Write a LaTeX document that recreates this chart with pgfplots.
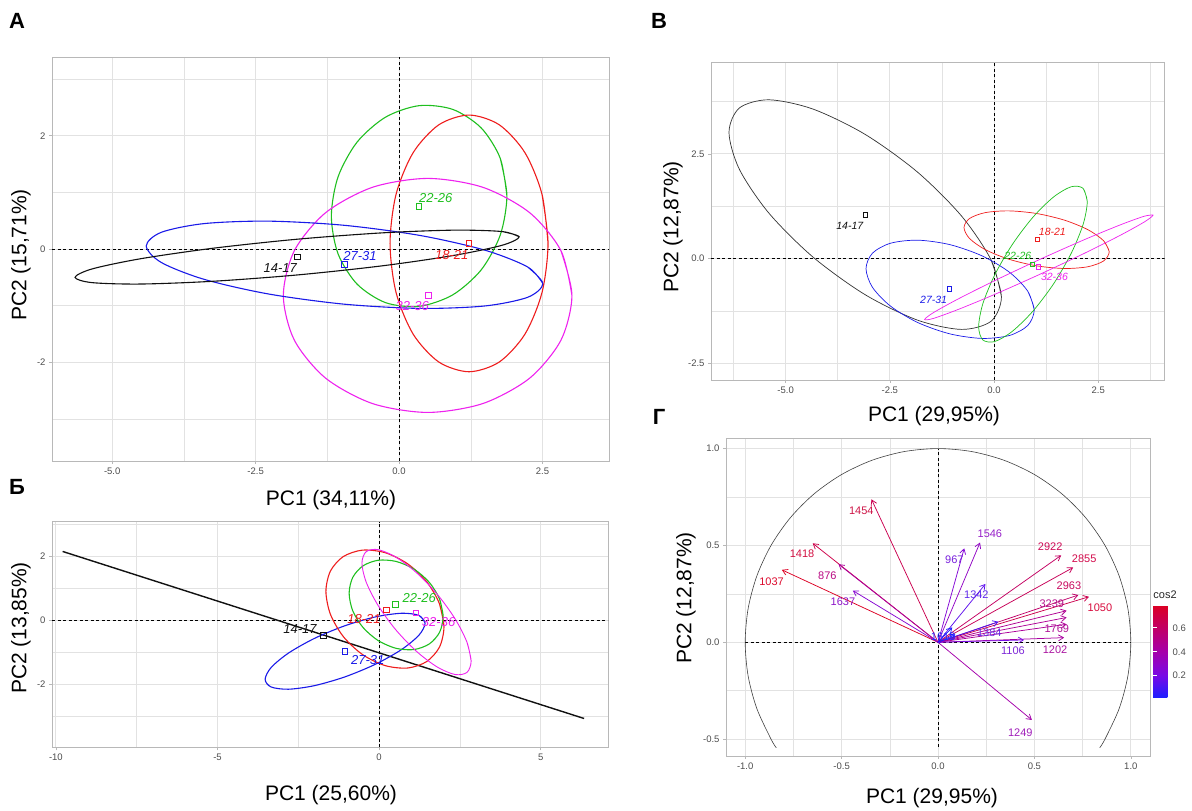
\documentclass[border=0pt]{standalone}
\usepackage{pgfplots}
\pgfplotsset{compat=1.18}
\usepackage{fontspec}
\setmainfont{Liberation Sans}
\usetikzlibrary{arrows.meta}
\definecolor{grey30}{HTML}{4D4D4D}
\definecolor{grey70}{HTML}{B8B8B8}
\definecolor{grey87}{HTML}{E2E2E2}
\definecolor{cBlk}{HTML}{111111}
\definecolor{cRed}{HTML}{EE1D1D}
\definecolor{cGrn}{HTML}{1FBF1F}
\definecolor{cBlu}{HTML}{1A1AE8}
\definecolor{cMag}{HTML}{EE22EE}
\definecolor{k1454}{RGB}{205,20,70}
\definecolor{k1418}{RGB}{210,15,65}
\definecolor{k1037}{RGB}{220,10,45}
\definecolor{k876}{RGB}{185,10,130}
\definecolor{k1637}{RGB}{140,20,200}
\definecolor{k967}{RGB}{120,30,220}
\definecolor{k1546}{RGB}{150,30,200}
\definecolor{k1342}{RGB}{95,40,235}
\definecolor{k2922}{RGB}{205,10,85}
\definecolor{k2855}{RGB}{210,10,75}
\definecolor{k2963}{RGB}{200,10,95}
\definecolor{k1050}{RGB}{215,10,60}
\definecolor{k3239}{RGB}{180,20,140}
\definecolor{k1769}{RGB}{175,20,150}
\definecolor{k1202}{RGB}{170,20,160}
\definecolor{k1106}{RGB}{125,40,215}
\definecolor{k1384}{RGB}{105,45,230}
\definecolor{k1249}{RGB}{160,30,185}
\definecolor{k1618}{RGB}{40,40,255}
\pgfplotsset{
  panel/.style={
    scale only axis, anchor=south west,
    axis line style={grey70, line width=0.8pt},
    tick pos=left, tick align=outside,
    major tick length=3pt, minor tick length=0pt,
    tick style={grey70, line width=0.6pt},
    grid=both,
    major grid style={grey87, line width=1pt},
    minor grid style={grey87, line width=0.5pt},
    tick label style={font=\fontsize{9.5}{10}\selectfont, text=grey30},
  },
  ell/.style={smooth, line width=1.1pt},
  ellB/.style={smooth, line width=0.7pt},
  zline/.style={black, dash pattern=on 3pt off 2.5pt, line width=0.7pt},
  lbl/.style={draw=none, mark=none, point meta=explicit symbolic, nodes near coords,
    visualization depends on={value \thisrow{col}\as\labcol},
    every node near coord/.append style={anchor=center, inner sep=0pt, text=\labcol}},
  ctr/.style={only marks, mark=square, mark size=2.8pt, line width=0.7pt},
  ctrB/.style={only marks, mark=square, mark size=2.2pt, line width=0.5pt},
}
\begin{document}
\begin{tikzpicture}[x=1pt,y=1pt]

% ---------------- Panel A ----------------
\begin{axis}[panel, at={(52pt,350pt)}, width=557pt, height=404pt,
  xmin=-6.05, xmax=3.66, ymin=-3.74, ymax=3.39,
  xtick={-5,-2.5,0,2.5}, xticklabels={-5.0,-2.5,0.0,2.5},
  ytick={-2,0,2}, yticklabels={-2,0,2},
  minor xtick={-3.75,-1.25,1.25}, minor ytick={-3,-1,1,3}]
\addplot[zline] coordinates {(0,-3.74) (0,3.39)};
\addplot[zline] coordinates {(-6.05,0) (3.66,0)};
\addplot[ell, cGrn] coordinates {(1.88,0.938) (1.764,1.602) (1.432,2.138) (0.936,2.465) (0.35,2.531) (-0.236,2.328) (-0.732,1.887) (-1.064,1.273) (-1.18,0.582) (-1.064,-0.082) (-0.732,-0.618) (-0.236,-0.945) (0.35,-1.011) (0.936,-0.808) (1.432,-0.367) (1.764,0.247) (1.88,0.938) (1.764,1.602)};
\addplot[ell, cRed] coordinates {(2.597,0.1) (2.492,0.967) (2.194,1.702) (1.747,2.193) (1.22,2.365) (0.693,2.193) (0.246,1.702) (-0.052,0.967) (-0.157,0.1) (-0.052,-0.767) (0.246,-1.502) (0.693,-1.993) (1.22,-2.165) (1.747,-1.993) (2.194,-1.502) (2.492,-0.767) (2.597,0.1) (2.492,0.967)};
\addplot[ell, cMag] coordinates {(3.014,-0.818) (2.822,-0.028) (2.277,0.642) (1.461,1.090) (0.499,1.247) (-0.464,1.090) (-1.280,0.642) (-1.825,-0.028) (-2.017,-0.818) (-1.825,-1.608) (-1.280,-2.278) (-0.464,-2.726) (0.499,-2.883) (1.461,-2.726) (2.277,-2.278) (2.822,-1.608) (3.014,-0.818) (2.822,-0.028)};
\addplot[ell, cBlu] coordinates {(2.507,-0.609) (2.244,-0.317) (1.495,-0.019) (0.373,0.239) (-0.95,0.419) (-2.273,0.493) (-3.395,0.450) (-4.144,0.296) (-4.407,0.055) (-4.144,-0.237) (-3.395,-0.535) (-2.273,-0.793) (-0.95,-0.973) (0.373,-1.047) (1.495,-1.004) (2.244,-0.850) (2.507,-0.609) (2.244,-0.317)};
\addplot[ell, cBlk] coordinates {(2.094,0.216) (1.799,0.309) (0.960,0.334) (-0.296,0.286) (-1.777,0.174) (-3.258,0.013) (-4.514,-0.172) (-5.353,-0.351) (-5.648,-0.499) (-5.353,-0.592) (-4.514,-0.617) (-3.258,-0.569) (-1.777,-0.457) (-0.296,-0.296) (0.960,-0.111) (1.799,0.068) (2.094,0.216) (1.799,0.309)};
\addplot[ctr, cBlk] coordinates {(-1.77,-0.14)};
\addplot[ctr, cBlu] coordinates {(-0.95,-0.27)};
\addplot[ctr, cGrn] coordinates {(0.345,0.75)};
\addplot[ctr, cRed] coordinates {(1.22,0.1)};
\addplot[ctr, cMag] coordinates {(0.51,-0.82)};
\addplot[lbl, every node near coord/.append style={font=\itshape\fontsize{13}{13}\selectfont}] table[x=x,y=y,meta=lab] {
x y lab col
-2.07 -0.34 14-17 cBlk
-0.68 -0.12 27-31 cBlu
0.64 0.90 22-26 cGrn
0.92 -0.10 18-21 cRed
0.23 -1.00 32-36 cMag
};
\end{axis}

% ---------------- Panel B ----------------
\begin{axis}[panel, at={(711pt,431pt)}, width=453.5pt, height=318pt,
  xmin=-6.79, xmax=4.09, ymin=-2.906, ymax=4.70,
  xtick={-5,-2.5,0,2.5}, xticklabels={-5.0,-2.5,0.0,2.5},
  ytick={-2.5,0,2.5}, yticklabels={-2.5,0.0,2.5},
  minor xtick={-6.25,-3.75,-1.25,1.25,3.75}, minor ytick={-1.25,1.25,3.75}]
\addplot[zline] coordinates {(0,-2.906) (0,4.70)};
\addplot[zline] coordinates {(-6.79,0) (4.09,0)};
\addplot[ellB, black!80] coordinates {(0.178,-0.916) (-0.071,-0.033) (-0.779,1.015) (-1.839,2.069) (-3.09,2.967) (-4.341,3.573) (-5.401,3.796) (-6.109,3.600) (-6.358,3.016) (-6.109,2.133) (-5.401,1.085) (-4.341,0.032) (-3.09,-0.867) (-1.839,-1.473) (-0.779,-1.696) (-0.071,-1.500) (0.178,-0.916) (-0.071,-0.033)};
\addplot[ellB, cBlu] coordinates {(0.965,-1.231) (0.811,-0.785) (0.374,-0.332) (-0.281,0.060) (-1.053,0.330) (-1.825,0.438) (-2.480,0.366) (-2.917,0.127) (-3.071,-0.243) (-2.917,-0.689) (-2.480,-1.142) (-1.825,-1.534) (-1.053,-1.804) (-0.281,-1.912) (0.374,-1.840) (0.811,-1.601) (0.965,-1.231) (0.811,-0.785)};
\addplot[ellB, cRed] coordinates {(2.764,0.161) (2.631,0.422) (2.254,0.688) (1.689,0.917) (1.022,1.076) (0.355,1.139) (-0.210,1.097) (-0.587,0.957) (-0.720,0.739) (-0.587,0.478) (-0.210,0.212) (0.355,-0.017) (1.022,-0.176) (1.689,-0.239) (2.254,-0.197) (2.631,-0.057) (2.764,0.161) (2.631,0.422)};
\addplot[ellB, cGrn] coordinates {(2.237,1.362) (2.138,1.677) (1.855,1.717) (1.433,1.475) (0.934,0.988) (0.435,0.329) (0.013,-0.400) (-0.270,-1.088) (-0.369,-1.632) (-0.270,-1.947) (0.013,-1.987) (0.435,-1.745) (0.934,-1.258) (1.433,-0.599) (1.855,0.130) (2.138,0.818) (2.237,1.362) (2.138,1.677)};
\addplot[ellB, cMag] coordinates {(3.815,1.038) (3.607,1.012) (3.013,0.798) (2.124,0.432) (1.075,-0.033) (0.026,-0.525) (-0.863,-0.969) (-1.457,-1.297) (-1.665,-1.460) (-1.457,-1.434) (-0.863,-1.220) (0.026,-0.854) (1.075,-0.389) (2.124,0.103) (3.013,0.547) (3.607,0.875) (3.815,1.038) (3.607,1.012)};
\addplot[ctrB, cBlk] coordinates {(-3.09,1.05)};
\addplot[ctrB, cRed] coordinates {(1.035,0.454)};
\addplot[ctrB, cGrn] coordinates {(0.92,-0.135)};
\addplot[ctrB, cMag] coordinates {(1.06,-0.2)};
\addplot[ctrB, cBlu] coordinates {(-1.07,-0.725)};
\addplot[lbl, every node near coord/.append style={font=\itshape\fontsize{10.5}{10.5}\selectfont}] table[x=x,y=y,meta=lab] {
x y lab col
-3.46 0.78 14-17 cBlk
1.40 0.64 18-21 cRed
0.57 0.056 22-26 cGrn
1.45 -0.45 32-36 cMag
-1.45 -1.00 27-31 cBlu
};
\end{axis}

% ---------------- Panel Б ----------------
\begin{axis}[panel, at={(52pt,63.7pt)}, width=556pt, height=225.6pt,
  xmin=-10.12, xmax=7.08, ymin=-3.96, ymax=3.09,
  xtick={-10,-5,0,5}, xticklabels={-10,-5,0,5},
  ytick={-2,0,2}, yticklabels={-2,0,2},
  minor xtick={-7.5,-2.5,2.5}, minor ytick={-3,-1,1,3}]
\addplot[zline] coordinates {(0,-3.96) (0,3.09)};
\addplot[zline] coordinates {(-10.12,0) (7.08,0)};
\addplot[cBlk, line width=1.4pt] coordinates {(-9.79,2.16) (6.34,-3.06)};
\addplot[ell, cBlu] coordinates {(1.423,-0.079) (1.235,0.160) (0.698,0.229) (-0.105,0.117) (-1.052,-0.159) (-1.999,-0.556) (-2.802,-1.014) (-3.339,-1.464) (-3.527,-1.837) (-3.339,-2.076) (-2.802,-2.145) (-1.999,-2.033) (-1.052,-1.757) (-0.105,-1.360) (0.698,-0.902) (1.235,-0.452) (1.423,-0.079) (1.235,0.160)};
\addplot[ell, cRed] coordinates {(2.006,-0.196) (1.867,0.522) (1.471,1.214) (0.879,1.776) (0.18,2.123) (-0.519,2.201) (-1.111,1.999) (-1.507,1.547) (-1.646,0.914) (-1.507,0.197) (-1.111,-0.496) (-0.519,-1.058) (0.18,-1.405) (0.879,-1.483) (1.471,-1.281) (1.867,-0.828) (2.006,-0.196) (1.867,0.522)};
\addplot[ell, cGrn] coordinates {(1.980,0.124) (1.869,0.672) (1.554,1.192) (1.082,1.605) (0.526,1.848) (-0.030,1.885) (-0.502,1.709) (-0.817,1.348) (-0.928,0.856) (-0.817,0.308) (-0.502,-0.212) (-0.030,-0.625) (0.526,-0.868) (1.082,-0.905) (1.554,-0.729) (1.869,-0.368) (1.980,0.124) (1.869,0.672)};
\addplot[ell, cMag, line width=0.9pt] coordinates {(2.846,-1.265) (2.718,-0.678) (2.351,0.052) (1.803,0.815) (1.157,1.495) (0.511,1.987) (-0.037,2.218) (-0.404,2.151) (-0.532,1.797) (-0.404,1.210) (-0.037,0.480) (0.511,-0.283) (1.157,-0.963) (1.803,-1.455) (2.351,-1.686) (2.718,-1.619) (2.846,-1.265) (2.718,-0.678)};
\addplot[ctr, cBlk] coordinates {(-1.73,-0.47)};
\addplot[ctr, cBlu] coordinates {(-1.06,-0.96)};
\addplot[ctr, cRed] coordinates {(0.22,0.34)};
\addplot[ctr, cGrn] coordinates {(0.5,0.5)};
\addplot[ctr, cMag] coordinates {(1.14,0.24)};
\addplot[lbl, every node near coord/.append style={font=\itshape\fontsize{13}{13}\selectfont}] table[x=x,y=y,meta=lab] {
x y lab col
-2.45 -0.27 14-17 cBlk
-0.35 -1.23 27-31 cBlu
-0.47 0.06 18-21 cRed
1.24 0.70 22-26 cGrn
1.84 -0.05 32-36 cMag
};
\end{axis}

% ---------------- Panel Г ----------------
\begin{axis}[panel, at={(726pt,55pt)}, width=424pt, height=317.7pt,
  xmin=-1.0995, xmax=1.0995, ymin=-0.587, ymax=1.053,
  xtick={-1,-0.5,0,0.5,1}, xticklabels={-1.0,-0.5,0.0,0.5,1.0},
  ytick={-0.5,0,0.5,1}, yticklabels={-0.5,0.0,0.5,1.0},
  minor xtick={-0.75,-0.25,0.25,0.75}, minor ytick={-0.25,0.25,0.75},
  colormap={cosmap}{rgb255(0cm)=(30,30,255); rgb255(2.34cm)=(120,10,230); rgb255(4.94cm)=(165,0,170); rgb255(10cm)=(220,0,35)},
  point meta min=0.02, point meta max=0.79,
  colorbar right,
  colorbar style={
    at={(parent axis.east)}, anchor=west, xshift=-5.5pt, yshift=-54pt,
    scale only axis, width=19pt, height=92pt,
    ytick={0.2,0.4,0.6}, yticklabels={0.2,0.4,0.6},
    yticklabel style={font=\fontsize{9.5}{10}\selectfont, text=grey30, xshift=-3pt},
    axis line style={draw=none},
    major tick length=4pt, tick align=inside,
    ytick style={draw=white, line width=0.8pt},
    ytick pos=both, yticklabel pos=right,
  }]
\addplot[zline] coordinates {(-1,0) (1,0)};
\addplot[zline] coordinates {(0,-0.54) (0,1)};
\addplot[smooth, black!75, line width=0.6pt] coordinates {(0.8387,-0.5446) (0.8660,-0.5) (0.9397,-0.3420) (0.9848,-0.1736) (1,0) (0.9848,0.1736) (0.9397,0.3420) (0.8660,0.5) (0.7660,0.6428) (0.6428,0.7660) (0.5,0.8660) (0.3420,0.9397) (0.1736,0.9848) (0,1) (-0.1736,0.9848) (-0.3420,0.9397) (-0.5,0.8660) (-0.6428,0.7660) (-0.7660,0.6428) (-0.8660,0.5) (-0.9397,0.3420) (-0.9848,0.1736) (-1,0) (-0.9848,-0.1736) (-0.9397,-0.3420) (-0.8660,-0.5) (-0.8387,-0.5446)};
\addplot[quiver={u=\thisrow{u}, v=\thisrow{v}, colored,
    every arrow/.append style={-{Straight Barb[length=5pt,width=6pt]}}},
  point meta=\thisrow{c}, line width=0.75pt] table {
x y u v c
0 0 -0.345 0.738 0.664
0 0 -0.650 0.511 0.684
0 0 -0.810 0.374 0.796
0 0 -0.516 0.403 0.429
0 0 -0.442 0.267 0.267
0 0 0.136 0.485 0.254
0 0 0.218 0.515 0.313
0 0 0.246 0.301 0.151
0 0 0.639 0.449 0.610
0 0 0.701 0.386 0.640
0 0 0.728 0.244 0.589
0 0 0.783 0.235 0.668
0 0 0.667 0.163 0.471
0 0 0.667 0.128 0.461
0 0 0.667 0.093 0.453
0 0 0.654 0.024 0.428
0 0 0.446 0.012 0.199
0 0 0.313 0.106 0.109
0 0 0.487 -0.401 0.398
0 0 0.074 0.077 0.011
0 0 0.090 0.040 0.010
};
\addplot[lbl, every node near coord/.append style={font=\fontsize{11}{11}\selectfont}] table[x=x,y=y,meta=lab] {
x y lab col
-0.398 0.678 1454 k1454
-0.705 0.456 1418 k1418
-0.863 0.313 1037 k1037
-0.574 0.344 876 k876
-0.493 0.207 1637 k1637
0.085 0.425 967 k967
0.269 0.563 1546 k1546
0.199 0.246 1342 k1342
0.582 0.494 2922 k2922
0.758 0.430 2855 k2855
0.679 0.291 2963 k2963
0.840 0.177 1050 k1050
0.590 0.201 3239 k3239
0.616 0.072 1769 k1769
0.607 -0.040 1202 k1202
0.389 -0.045 1106 k1106
0.266 0.050 1384 k1384
0.427 -0.466 1249 k1249
0.027 0.029 1618 k1618
};
\end{axis}

% ---------------- texts ----------------
\node[font=\fontsize{22}{22}\selectfont\bfseries] at (17pt,790pt) {A};
\node[font=\fontsize{22}{22}\selectfont\bfseries] at (659pt,790pt) {B};
\node[font=\fontsize{22}{22}\selectfont\bfseries] at (17pt,324pt) {Б};
\node[font=\fontsize{22}{22}\selectfont\bfseries] at (659pt,394pt) {Г};
\node[font=\fontsize{21}{21}\selectfont] at (331pt,310.5pt) {PC1 (34,11\%)};
\node[font=\fontsize{21}{21}\selectfont, rotate=90] at (21pt,556pt) {PC2 (15,71\%)};
\node[font=\fontsize{21}{21}\selectfont] at (934pt,395pt) {PC1 (29,95\%)};
\node[font=\fontsize{21}{21}\selectfont, rotate=90] at (673pt,584pt) {PC2 (12,87\%)};
\node[font=\fontsize{21}{21}\selectfont] at (331pt,16pt) {PC1 (25,60\%)};
\node[font=\fontsize{21}{21}\selectfont, rotate=90] at (21pt,183pt) {PC2 (13,85\%)};
\node[font=\fontsize{21}{21}\selectfont] at (932pt,12.7pt) {PC1 (29,95\%)};
\node[font=\fontsize{21}{21}\selectfont, rotate=90] at (686pt,213pt) {PC2 (12,87\%)};
\node[font=\fontsize{11}{11}\selectfont, text=black!85] at (1165pt,216pt) {cos2};
\pgfresetboundingbox
\useasboundingbox (0pt,0pt) rectangle (1192pt,811pt);
\end{tikzpicture}
\end{document}
